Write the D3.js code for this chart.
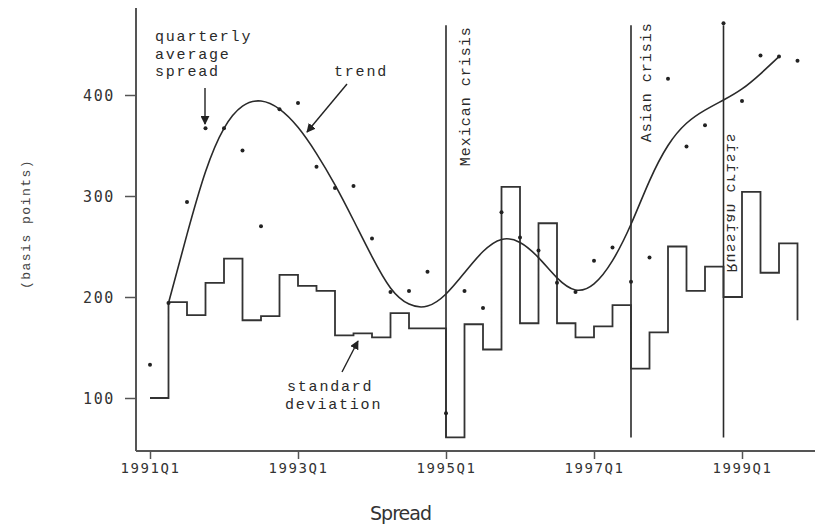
<!DOCTYPE html>
<html>
<head>
<meta charset="utf-8">
<script src="https://cdn.jsdelivr.net/npm/d3@7"></script>
<style>
  body { margin: 0; background: #fff; }
  .mono { font-family: "Liberation Mono", "DejaVu Sans Mono", monospace; fill: #2a2a2a; }
  .tick text { font-family: "DejaVu Sans Mono", monospace; fill: #333; letter-spacing: 1.6px; }
</style>
</head>
<body>
<script>
// quarters 1991Q1 .. 1999Q4
var quarters = ["1991Q1","1991Q2","1991Q3","1991Q4","1992Q1","1992Q2","1992Q3","1992Q4",
  "1993Q1","1993Q2","1993Q3","1993Q4","1994Q1","1994Q2","1994Q3","1994Q4",
  "1995Q1","1995Q2","1995Q3","1995Q4","1996Q1","1996Q2","1996Q3","1996Q4",
  "1997Q1","1997Q2","1997Q3","1997Q4","1998Q1","1998Q2","1998Q3","1998Q4",
  "1999Q1","1999Q2","1999Q3","1999Q4"];

// quarterly average spread (dots)
var avgSpread = [133,194,294,367,367,345,270,386,392,329,308,310,258,205,206,225,
  85,206,189,284,259,246,214,205,236,249,215,239,416,349,370,471,394,439,438,434];

// standard deviation (step line)
var stdDev = [100,195,182,214,238,177,181,222,211,206,162,164,160,184,169,169,
  61,173,148,309,174,273,174,160,171,192,129,165,250,206,230,200,304,224,253,177];

// trend, 1991Q2 .. 1999Q3
var trendQuarters = quarters.slice(1, 35);
var trendValues = [194,262,324,367,389,394,386,368,342,311,276,240,209,193,191,203,
  224,245,257,254,239,219,207,213,236,272,315,350,372,385,395,406,421,438];

var crisisQuarters = ["1995Q1","1997Q3","1998Q4"];
var crisisNames = ["Mexican crisis","Asian crisis","Russian crisis"];
var crisisRange = [61, 469];

var xTicks = ["1991Q1","1993Q1","1995Q1","1997Q1","1999Q1"];
var yTicks = [100, 200, 300, 400];

var svgWidth = 815;
var svgHeight = 527;
var margin = { top: 8, left: 136 };
var width = svgWidth - margin.left;
var height = 443;

var svg = d3.select("body").append("svg")
  .attr("width", svgWidth)
  .attr("height", svgHeight);

var defs = svg.append("defs");
defs.append("marker")
  .attr("id", "arrow")
  .attr("viewBox", "0 0 10 10")
  .attr("refX", 9).attr("refY", 5)
  .attr("markerWidth", 9).attr("markerHeight", 9)
  .attr("markerUnits", "userSpaceOnUse")
  .attr("orient", "auto")
  .append("path").attr("d", "M0,0 L10,5 L0,10 Z").attr("fill", "#222");

var chartGroup = svg.append("g")
  .attr("transform", `translate(${margin.left}, ${margin.top})`);

var xScale = d3.scalePoint()
  .domain(quarters)
  .range([14, 14 + 35 * 18.5]);

var yScale = d3.scaleLinear()
  .domain([100, 400])
  .range([390, 87]);

// axes
var bottomAxis = d3.axisBottom(xScale).tickValues(xTicks).tickSize(8).tickPadding(4);
var leftAxis = d3.axisLeft(yScale).tickValues(yTicks).tickSize(11).tickPadding(10);

var xAxisG = chartGroup.append("g")
  .attr("transform", `translate(0, ${height})`)
  .call(bottomAxis);
xAxisG.select(".domain").remove();
xAxisG.selectAll("line").attr("stroke", "#555").attr("stroke-width", 1.5);
xAxisG.selectAll("text").attr("font-size", 14).attr("fill", "#333");

var yAxisG = chartGroup.append("g").call(leftAxis);
yAxisG.select(".domain").remove();
yAxisG.selectAll("line").attr("stroke", "#555").attr("stroke-width", 1.5);
yAxisG.selectAll("text").attr("font-size", 15).attr("fill", "#333").attr("dy", "0.38em");

chartGroup.append("line")
  .attr("x1", 0).attr("x2", 0).attr("y1", 0).attr("y2", height)
  .attr("stroke", "#555").attr("stroke-width", 2);
chartGroup.append("line")
  .attr("x1", 0).attr("x2", width).attr("y1", height).attr("y2", height)
  .attr("stroke", "#555").attr("stroke-width", 2);

// crisis lines
crisisQuarters.forEach(function(q) {
  chartGroup.append("line")
    .attr("x1", xScale(q)).attr("x2", xScale(q))
    .attr("y1", yScale(crisisRange[1])).attr("y2", yScale(crisisRange[0]))
    .attr("stroke", "#2a2a2a").attr("stroke-width", 1.6);
});

// std dev steps
var stepLine = d3.line()
  .x((d, i) => xScale(quarters[i]))
  .y(d => yScale(d))
  .curve(d3.curveStepAfter);

chartGroup.append("path")
  .datum(stdDev)
  .attr("d", stepLine)
  .attr("fill", "none")
  .attr("stroke", "#333")
  .attr("stroke-width", 1.8);

// trend
var trendLine = d3.line()
  .x((d, i) => xScale(trendQuarters[i]))
  .y(d => yScale(d))
  .curve(d3.curveNatural);

chartGroup.append("path")
  .datum(trendValues)
  .attr("d", trendLine)
  .attr("fill", "none")
  .attr("stroke", "#2a2a2a")
  .attr("stroke-width", 1.6);

// dots
chartGroup.selectAll("circle")
  .data(avgSpread)
  .enter()
  .append("circle")
  .attr("cx", (d, i) => xScale(quarters[i]))
  .attr("cy", d => yScale(d))
  .attr("r", 2)
  .attr("fill", "#222");

// crisis labels
var crisisLabels = chartGroup.selectAll(".crisis")
  .data(crisisNames)
  .enter()
  .append("text")
  .attr("class", "mono")
  .attr("font-size", 15)
  .attr("letter-spacing", "1px")
  .attr("text-anchor", "end")
  .text(d => d);

crisisLabels.attr("transform", function(d, i) {
  var cx = xScale(crisisQuarters[i]);
  if (i == 0) return `translate(${cx + 24}, ${yScale(468)}) rotate(-90)`;
  if (i == 1) return `translate(${cx + 20}, ${yScale(472)}) rotate(-90)`;
  // this one is printed mirrored in the original
  return `translate(${cx + 3}, ${yScale(363)}) rotate(-90) scale(1,-1)`;
});

// annotations
var notes = svg.append("g").attr("class", "mono").attr("font-size", 15).attr("letter-spacing", "1.8px");
notes.append("text").attr("x", 155).attr("y", 41).text("quarterly");
notes.append("text").attr("x", 155).attr("y", 59).text("average");
notes.append("text").attr("x", 155).attr("y", 76).text("spread");
notes.append("text").attr("x", 334).attr("y", 76).text("trend");
notes.append("text").attr("x", 287).attr("y", 391).text("standard");
notes.append("text").attr("x", 285).attr("y", 409).text("deviation");

svg.append("line").attr("x1", 205).attr("y1", 88).attr("x2", 205).attr("y2", 124)
  .attr("stroke", "#222").attr("stroke-width", 1.4).attr("marker-end", "url(#arrow)");
svg.append("line").attr("x1", 347).attr("y1", 84).attr("x2", 307).attr("y2", 132)
  .attr("stroke", "#222").attr("stroke-width", 1.4).attr("marker-end", "url(#arrow)");
svg.append("line").attr("x1", 342).attr("y1", 372).attr("x2", 358).attr("y2", 341)
  .attr("stroke", "#222").attr("stroke-width", 1.4).attr("marker-end", "url(#arrow)");

// axis titles
svg.append("text")
  .attr("transform", "translate(30, 224) rotate(-90)")
  .attr("text-anchor", "middle")
  .attr("font-family", "Liberation Mono, monospace")
  .attr("font-size", 13)
  .attr("letter-spacing", "1.5px")
  .attr("fill", "#444")
  .text("(basis points)");

svg.append("text")
  .attr("x", 401).attr("y", 520)
  .attr("text-anchor", "middle")
  .attr("font-family", "DejaVu Sans, sans-serif")
  .attr("font-size", 19)
  .attr("textLength", 62)
  .attr("fill", "#333")
  .text("Spread");
</script>
</body>
</html>
